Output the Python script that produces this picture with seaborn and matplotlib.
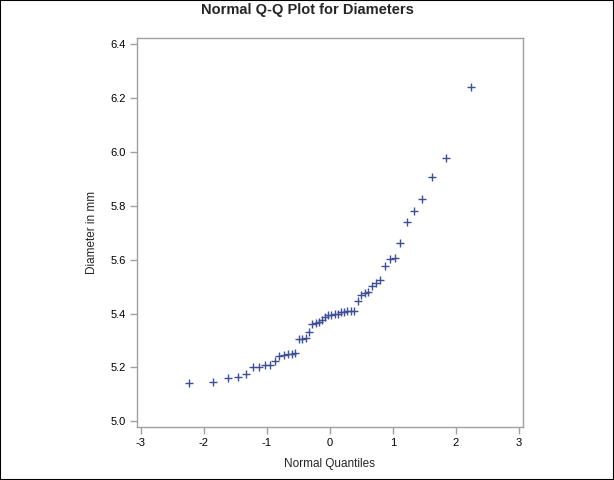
'''
Normal Q-Q plot for diameters
'''
import seaborn as sns
import pandas as pd
import matplotlib.pyplot as plt
from matplotlib.patches import Rectangle

# sorted diameters (mm)
diameter = [5.143, 5.146, 5.160, 5.164, 5.177, 5.200, 5.202, 5.208, 5.209, 5.223,
            5.244, 5.247, 5.248, 5.251, 5.252, 5.304, 5.304, 5.309, 5.332, 5.360,
            5.366, 5.368, 5.376, 5.388, 5.394, 5.394, 5.399, 5.399, 5.404, 5.404,
            5.409, 5.410, 5.410, 5.445, 5.470, 5.475, 5.480, 5.501, 5.512, 5.525,
            5.576, 5.603, 5.607, 5.661, 5.739, 5.781, 5.823, 5.907, 5.977, 6.239]
# normal quantiles on the x axis
quantile = [-2.243, -1.847, -1.624, -1.460, -1.328, -1.216, -1.118, -1.029, -0.948, -0.872,
            -0.802, -0.734, -0.671, -0.609, -0.550, -0.493, -0.438, -0.383, -0.330, -0.278,
            -0.226, -0.175, -0.125, -0.075, -0.025, 0.025, 0.075, 0.125, 0.175, 0.226,
            0.278, 0.330, 0.383, 0.438, 0.493, 0.550, 0.609, 0.671, 0.734, 0.802,
            0.872, 0.948, 1.029, 1.118, 1.216, 1.328, 1.460, 1.624, 1.847, 2.243]
xticks = [-3, -2, -1, 0, 1, 2, 3]
yticks = [5.0, 5.2, 5.4, 5.6, 5.8, 6.0, 6.2, 6.4]

data = pd.DataFrame({'quantile': quantile, 'diameter': diameter})

sns.set_style('white')
plt.rcParams['font.family'] = ['Liberation Sans', 'DejaVu Sans']

fig = plt.figure(figsize=(6.14, 4.8), dpi=100)
ax = fig.add_axes([137/614, 1 - 427/480, 386/614, 389/480])

sns.scatterplot(data=data, x='quantile', y='diameter', marker='+', s=34,
                color='#3e4f96', linewidth=1.0, ax=ax, legend=False)

ax.set_xlim(-3.06, 3.063)
ax.set_ylim(4.979, 6.422)
ax.set_xticks(xticks)
ax.set_xticklabels([str(t) for t in xticks])
ax.set_yticks(yticks)
ax.set_yticklabels([f'{t:.1f}' for t in yticks])

for sp in ax.spines.values():
    sp.set_color('#a0a0a0')
    sp.set_linewidth(1.0)
ax.tick_params(axis='both', direction='out', length=5, width=1, color='#a0a0a0',
               labelsize=8, labelcolor='black', pad=3, bottom=True, left=True)

ax.set_xlabel('Normal Quantiles', fontsize=8.5, labelpad=7)
ax.set_ylabel('Diameter in mm', fontsize=8.5, labelpad=9)

fig.text(0.5, 1 - 10/480, 'Normal Q-Q Plot for Diameters', ha='center', va='center',
         fontsize=10.5, fontweight='bold')

# outer black border
fig.patches.append(Rectangle((0, 0), 1, 1, transform=fig.transFigure, fill=False,
                             edgecolor='black', linewidth=1.5))

fig.savefig('out.png', dpi=100)
